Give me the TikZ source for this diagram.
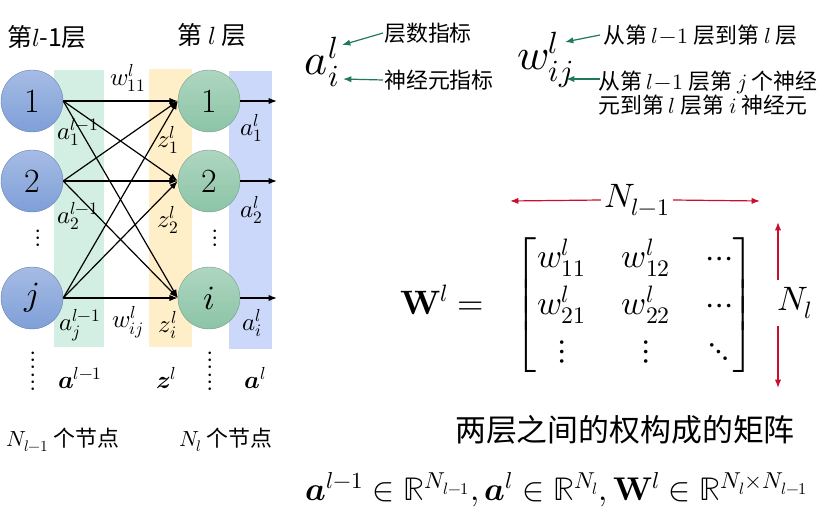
\documentclass[tikz,border=0pt]{standalone}
\usepackage{amsmath}
\usepackage{fontspec}
\usepackage{unicode-math}
\setmathfont{Latin Modern Math}
\newfontfamily\cjk{Noto Sans CJK SC}
\usetikzlibrary{positioning,arrows.meta}
\definecolor{blueN}{HTML}{7F9FD8}
\definecolor{greenN}{HTML}{8CC4A6}
\definecolor{bandG}{HTML}{D3EEE2}
\definecolor{bandO}{HTML}{FFEFC8}
\definecolor{bandB}{HTML}{CCD8FA}
\definecolor{arrG}{HTML}{1F7A5A}
\definecolor{arrR}{HTML}{C8102E}
\begin{document}
\begin{tikzpicture}[x=1bp,y=-1bp,
    neuron/.style={circle,minimum size=62bp,inner sep=0pt,draw=#1!80!black,
        top color=#1!70!white,bottom color=#1,font=\fontsize{34}{36}\selectfont},
    link/.style={-Latex,line width=1.2pt},
    lbl/.style={font=\fontsize{25}{27}\selectfont,inner sep=1pt},
    zh/.style={font=\fontsize{22}{24}\cjk\selectfont,inner sep=1pt},
    note/.style={-Latex,line width=1.2pt,arrG}]
    \useasboundingbox (0,0) rectangle (821,512);
    % bands
    \fill[bandG] (54,70) rectangle (104,347);
    \fill[bandO] (149,69) rectangle (192,347);
    \fill[bandB] (229,71) rectangle (272,349);
    % neurons
    \node[neuron=blueN] (l1) at (32,101) {1};
    \node[neuron=blueN] (l2) at (32,181) {2};
    \node[neuron=blueN] (lj) at (32,298) {$j$};
    \node[neuron=greenN] (r1) at (209,101) {1};
    \node[neuron=greenN] (r2) at (209,181) {2};
    \node[neuron=greenN] (ri) at (209,298) {$i$};
    \foreach \s in {l1,l2,lj}
        \foreach \t in {r1,r2,ri}
            \draw[link] (\s.east) -- (\t.west);
    \foreach \t/\n in {r1/o1,r2/o2,ri/oi}{
        \coordinate (\n) at ([xshift=68bp]\t.center);
        \draw[link] (\t.east) -- (\n);
    }
    % dots
    \node[lbl] (dl) at (38,238) {$\vdots$};
    \node[lbl] (dr) at (215,238) {$\vdots$};
    \node[lbl] (dl2) at (33,360) {$\vdots$};
    \node[lbl] at (33,382) {$\vdots$};
    \node[lbl] (dr2) at (210,360) {$\vdots$};
    \node[lbl] at (210,382) {$\vdots$};
    % labels
    \node[lbl] (w11) at (128,78) {$w_{11}^{l}$};
    \node[lbl] (wij) at (128,322) {$w_{ij}^{l}$};
    \node[lbl] at (78,132) {$a_1^{l-1}$};
    \node[lbl] at (78,216) {$a_2^{l-1}$};
    \node[lbl] at (80,325) {$a_j^{l-1}$};
    \node[lbl] at (168,140) {$z_1^{l}$};
    \node[lbl] at (168,220) {$z_2^{l}$};
    \node[lbl] at (168,325) {$z_i^{l}$};
    \node[lbl] at (252,128) {$a_1^{l}$};
    \node[lbl] at (252,210) {$a_2^{l}$};
    \node[lbl] at (252,323) {$a_i^{l}$};
    \node[lbl] at (80,378) {$\symbfit{a}^{l-1}$};
    \node[lbl] at (166,378) {$\symbfit{z}^{l}$};
    \node[lbl] at (255,378) {$\symbfit{a}^{l}$};
    \node[zh,font=\fontsize{25}{27}\cjk\selectfont] at (47,37) {第$l$-1层};
    \node[zh,font=\fontsize{25}{27}\cjk\selectfont] at (212,35) {第 $l$ 层};
    \node[zh] at (63,440) {$N_{l-1}$ 个节点};
    \node[zh] at (226,440) {$N_{l}$ 个节点};
    % index notes
    \node[font=\fontsize{44}{46}\selectfont] (ail) at (322,62) {$a_i^{l}$};
    \node[zh,anchor=west] (tl) at (383,33) {层数指标};
    \node[zh,anchor=west] (tn) at (383,80) {神经元指标};
    \draw[note] (tl.west) -- (342,45);
    \draw[note] (tn.west) -- (343,79);
    \node[font=\fontsize{44}{46}\selectfont] (wl) at (545,60) {$w_{ij}^{l}$};
    \node[zh,anchor=west] (tw) at (602,35) {从第 $l\!-\!1$ 层到第 $l$ 层};
    \node[zh,anchor=west,align=left] (tw2) at (597,93) {从第 $l\!-\!1$ 层第 $j$ 个神经\\元到第 $l$ 层第 $i$ 神经元};
    \draw[note] (600,35) -- (565,42);
    \draw[note] (600,79) -- (566,79);
    % matrix
    \node[font=\fontsize{34}{36}\selectfont] (W) at (442,300) {$\symbf{W}^{l}=$};
    \node[font=\fontsize{34}{36}\selectfont] (M) at (635,305) {$\setlength\arraycolsep{18pt}\renewcommand\arraystretch{1.3}\left[\begin{matrix}
        w_{11}^{l} & w_{12}^{l} & \cdots\\
        w_{21}^{l} & w_{22}^{l} & \cdots\\
        \vdots & \vdots & \ddots\end{matrix}\right]$};
    \node[font=\fontsize{34}{36}\selectfont] (Nc) at (637,200) {$N_{l-1}$};
    \draw[-Latex,arrR,line width=1.2pt] (Nc.west) -- (510,201);
    \draw[-Latex,arrR,line width=1.2pt] (Nc.east) -- (760,201);
    \node[font=\fontsize{34}{36}\selectfont,inner sep=1pt] (Nr) at (795,303) {$N_{l}$};
    \draw[-Latex,arrR,line width=1.2pt] (778,280) -- (778,222);
    \draw[-Latex,arrR,line width=1.2pt] (778,326) -- (778,388);
    \node[zh,font=\fontsize{31}{33}\cjk\selectfont] (cap) at (625,430) {两层之间的权构成的矩阵};
    \node[font=\fontsize{33}{35}\selectfont] (eq) at (557,490)
        {$\symbfit{a}^{l-1}\in\mathbb{R}^{N_{l-1}},\symbfit{a}^{l}\in\mathbb{R}^{N_{l}},\symbf{W}^{l}\in\mathbb{R}^{N_{l}\times N_{l-1}}$};
\end{tikzpicture}
\end{document}
